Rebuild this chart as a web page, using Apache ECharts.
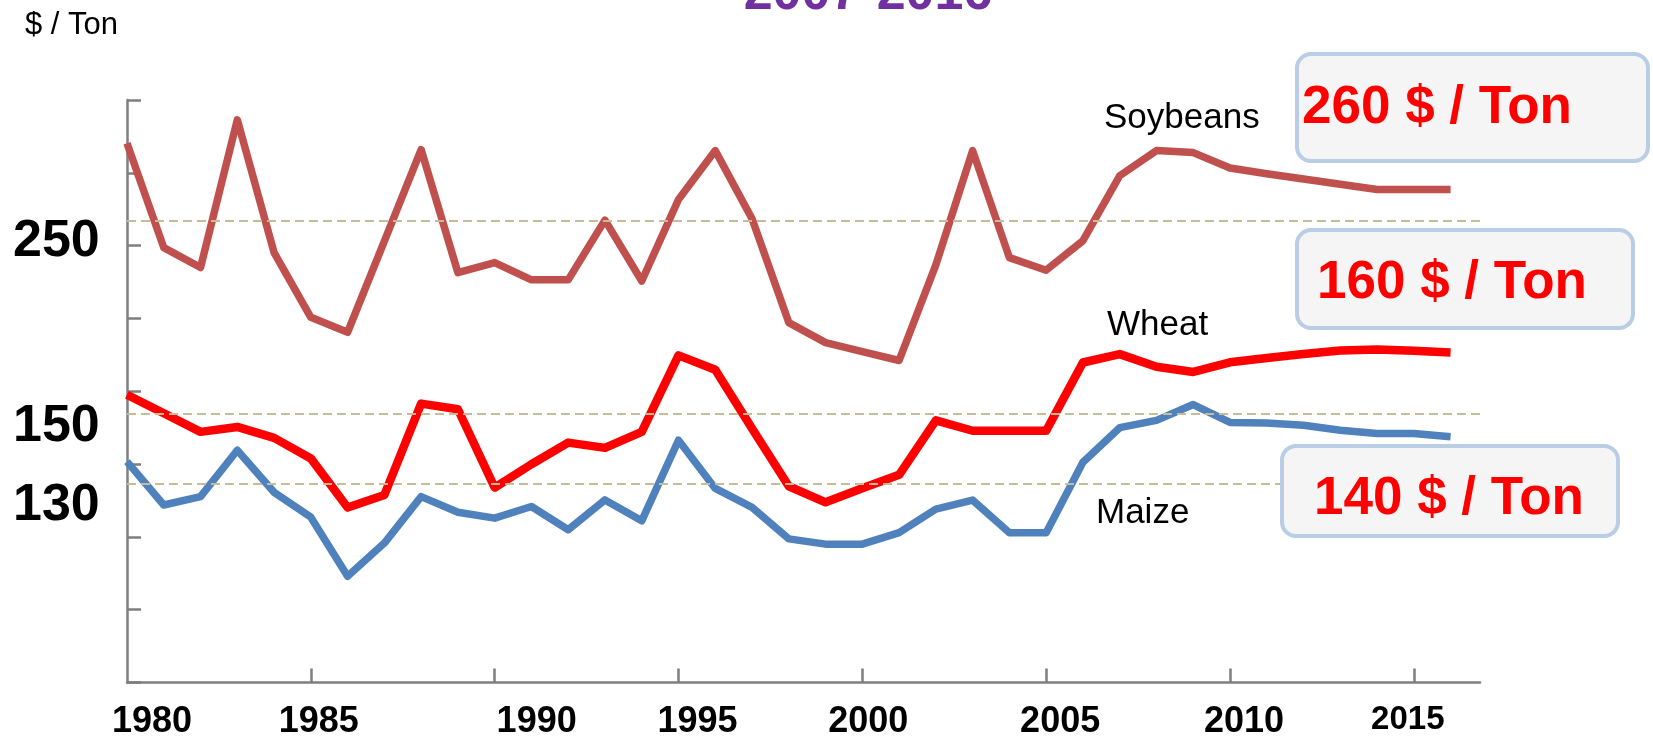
<!DOCTYPE html>
<html>
<head>
<meta charset="utf-8">
<script src="https://cdn.jsdelivr.net/npm/echarts@6/dist/echarts.min.js"></script>
<style>
html,body{margin:0;padding:0;background:#ffffff;}
#chart{width:1653px;height:742px;}
</style>
</head>
<body>
<div id="chart"></div>
<script>
// ---------- data ----------
const years = [1980,1981,1982,1983,1984,1985,1986,1987,1988,1989,
               1990,1991,1992,1993,1994,1995,1996,1997,1998,1999,
               2000,2001,2002,2003,2004,2005,2006,2007,2008,2009,
               2010,2011,2012,2013,2014,2015,2016];
const soybeans = [296.3,238.9,228.0,309.1,236.2,200.6,192.4,242.5,292.7,225.2,
                  230.7,221.2,221.2,254.0,220.6,265.3,292.2,254.8,197.7,186.7,
                  181.8,176.9,229.4,292.2,233.4,226.5,242.7,278.4,292.2,291.1,
                  282.6,279.5,276.6,273.7,270.8,270.8,270.8];
const wheat = [158.1,147.9,137.7,140.4,134.4,123.1,96.1,103.0,153.2,150.1,
               107.1,119.9,131.8,128.9,137.7,179.7,171.8,139.5,107.8,99.0,
               106.7,114.1,144.0,138.3,138.3,138.3,175.8,180.4,173.5,170.6,
               175.9,178.3,180.5,182.4,183.0,182.2,181.3];
const maize = [121.3,97.5,102.1,127.6,104.5,90.8,58.4,76.6,102.1,93.5,
               90.3,96.7,83.9,100.3,88.8,133.1,106.6,96.2,78.9,76.0,
               76.0,82.3,95.2,100.2,82.3,82.3,121.0,140.0,144.0,152.7,
               142.9,142.5,141.3,138.6,136.8,136.8,135.0];
const refLevels = [253.5, 147.7, 109.4];
const xTickYears = [1985,1990,1995,2000,2005,2010,2015];
const xLabelYears = [1980,1985,1990,1995,2000,2005,2010,2015];
const yTextLabels = ['250','150','130'];
const seriesNames = ['Soybeans','Wheat','Maize'];
const priceBoxes = ['260 $ / Ton','160 $ / Ton','140 $ / Ton'];
const unitLabel = '$ / Ton';
const titleText = '2007-2016';

// ---------- styling ----------
const FONT = '"Liberation Sans", Arial, Helvetica, sans-serif';
const colors = ['#C0504D', '#FF0000', '#4F81BD'];
const widths = [7.5, 8.5, 7.5];
const labelShift = {1980:25,1985:8,1990:42,1995:19,2000:6,2005:14,2010:14,2015:-6};

const rich = {};
xLabelYears.forEach(function (y) {
  const s = labelShift[y] || 0;
  rich['y' + y] = {
    fontFamily: FONT,
    fontWeight: 'bold',
    fontSize: y === 2015 ? 33 : 36,
    lineHeight: 36,
    color: '#000',
    padding: s >= 0 ? [y === 2015 ? 0 : 0, 0, 0, 2 * s] : [0, -2 * s, 6, 0]
  };
});

function pairs(vals) {
  return years.map(function (y, i) { return [y, vals[i]]; });
}

const dataSeries = [soybeans, wheat, maize].map(function (vals, i) {
  return {
    name: seriesNames[i],
    type: 'line',
    data: pairs(vals),
    symbol: 'none',
    showSymbol: false,
    z: 3,
    lineStyle: { color: colors[i], width: widths[i], join: 'round', cap: 'butt' },
    itemStyle: { color: colors[i] }
  };
});

const refSeries = {
  name: 'ref',
  type: 'line',
  data: [],
  z: 1,
  silent: true,
  markLine: {
    silent: true,
    symbol: ['none', 'none'],
    label: { show: false },
    lineStyle: { color: '#C4BD97', type: [9, 5], width: 2 },
    data: refLevels.map(function (v) { return { yAxis: v }; })
  }
};

const textStyleBase = { fontFamily: FONT, fill: '#000' };

const seriesNamePos = [[1104, 118], [1107, 325], [1096, 513]];
const yLabelPos = [242, 427, 506];
const boxRects = [[1297, 54, 351, 107], [1297, 230, 336, 98], [1282, 446, 336, 90]];
const boxTextPos = [[1302, 108], [1317, 283], [1314, 499]];

const graphics = [];
graphics.push({
  type: 'text', z: 100, x: 868, y: 21,
  style: { text: titleText, fontFamily: FONT, fontWeight: 'bold', fontSize: 52,
           fill: '#7030A0', align: 'center', verticalAlign: 'bottom' }
});
graphics.push({
  type: 'text', z: 100, x: 25, y: 25,
  style: Object.assign({}, textStyleBase, { text: unitLabel, fontSize: 31,
           align: 'left', verticalAlign: 'middle' })
});
yTextLabels.forEach(function (t, i) {
  graphics.push({
    type: 'text', z: 100, x: 13, y: yLabelPos[i],
    style: Object.assign({}, textStyleBase, { text: t, fontSize: 52, fontWeight: 'bold',
             align: 'left', verticalAlign: 'middle' })
  });
});
seriesNames.forEach(function (t, i) {
  graphics.push({
    type: 'text', z: 100, x: seriesNamePos[i][0], y: seriesNamePos[i][1],
    style: Object.assign({}, textStyleBase, { text: t, fontSize: 35,
             align: 'left', verticalAlign: 'middle' })
  });
});
priceBoxes.forEach(function (t, i) {
  const r = boxRects[i];
  graphics.push({
    type: 'rect', z: 100,
    shape: { x: r[0], y: r[1], width: r[2], height: r[3], r: 14 },
    style: { fill: '#F5F5F5', stroke: '#B9CDE5', lineWidth: 4 }
  });
  graphics.push({
    type: 'text', z: 101, x: boxTextPos[i][0], y: boxTextPos[i][1],
    style: { text: t, fontFamily: FONT, fontWeight: 'bold', fontSize: 53,
             fill: '#FF0000', align: 'left', verticalAlign: 'middle' }
  });
});

const chart = echarts.init(document.getElementById('chart'), null, { renderer: 'canvas' });
chart.setOption({
  backgroundColor: '#ffffff',
  animation: false,
  grid: { left: 127, right: 173, top: 100, bottom: 57, containLabel: false },
  xAxis: {
    type: 'value',
    min: 1980,
    max: 2016.8,
    interval: 5,
    splitLine: { show: false },
    axisLine: { show: true, lineStyle: { color: '#7F7F7F', width: 2.5 } },
    axisTick: { show: true, inside: true, length: 14, customValues: xTickYears,
                lineStyle: { color: '#7F7F7F', width: 2.5 } },
    axisLabel: {
      show: true,
      customValues: xLabelYears,
      margin: 22,
      formatter: function (v) { return '{y' + v + '|' + v + '}'; },
      rich: rich
    }
  },
  yAxis: {
    type: 'value',
    min: 0,
    max: 320,
    interval: 40,
    splitLine: { show: false },
    axisLine: { show: true, lineStyle: { color: '#7F7F7F', width: 2.5 } },
    axisTick: { show: true, inside: true, length: 14, lineStyle: { color: '#7F7F7F', width: 2.5 } },
    axisLabel: { show: false }
  },
  series: [refSeries].concat(dataSeries),
  graphic: graphics
});
</script>
</body>
</html>
